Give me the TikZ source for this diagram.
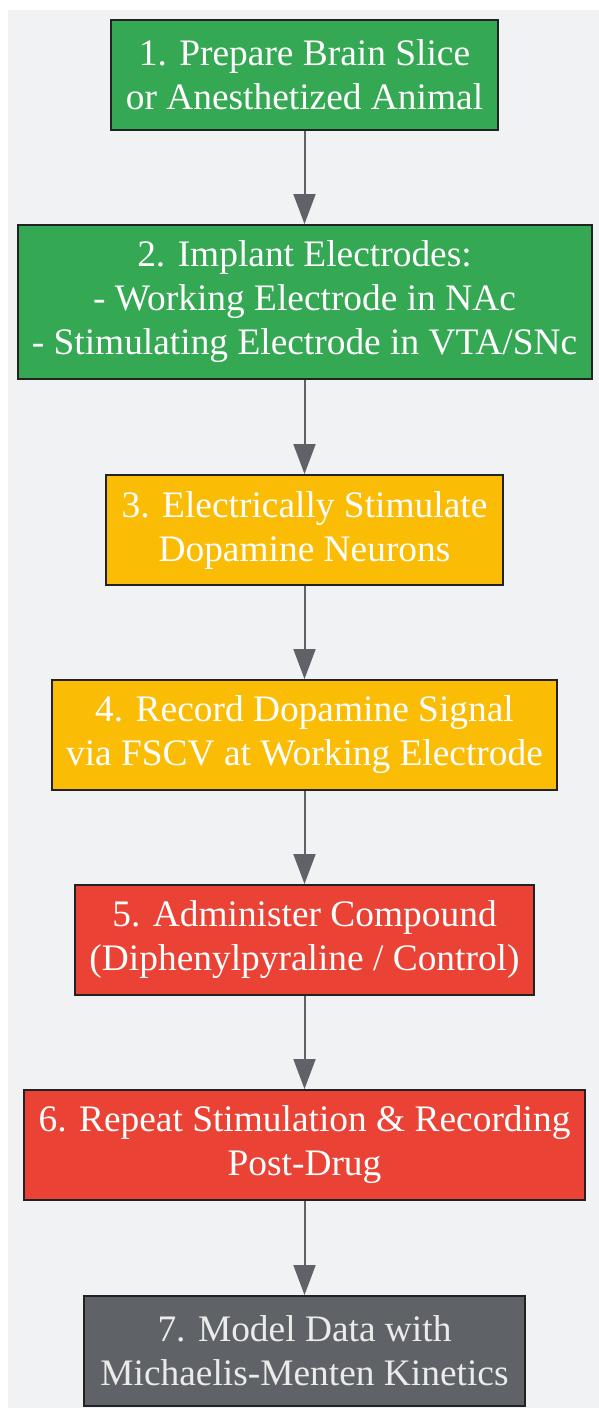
\documentclass[tikz,border=0pt]{standalone}
\usepackage{fontspec}
\setmainfont{Liberation Serif}
\usepackage{tikz}
\usetikzlibrary{arrows.meta}
\definecolor{bggray}{HTML}{F1F2F4}
\definecolor{stepgreen}{HTML}{34A853}
\definecolor{stepyellow}{HTML}{FBBC05}
\definecolor{stepred}{HTML}{EA4335}
\definecolor{stepgray}{HTML}{5F6368}
\definecolor{edgegray}{HTML}{222222}

\begin{document}
\begin{tikzpicture}[x=1pt, y=-1pt]
        \tikzset{stepbox/.style={draw=edgegray, line width=2pt, text=white, align=center,
                font=\fontsize{37.4}{44}\selectfont, inner sep=0pt, minimum height=110pt},
                flow/.style={-{Triangle[length=30pt, width=22pt]}, line width=2pt, stepgray}}
        \useasboundingbox (0,0) rectangle (599,1408);
        \fill[bggray] (8,10) rectangle (599,1408);
        \node[stepbox, fill=stepgreen, minimum width=387pt] (prep) at (304.5,75) {1. Prepare Brain Slice\\or Anesthetized Animal};
        \node[stepbox, fill=stepgreen, minimum width=574pt, minimum height=154pt] (implant) at (304.5,302) {2. Implant Electrodes:\\- Working Electrode in NAc\\- Stimulating Electrode in VTA/SNc};
        \node[stepbox, fill=stepyellow, minimum width=397pt] (stim) at (304.5,530) {3. Electrically Stimulate\\Dopamine Neurons};
        \node[stepbox, fill=stepyellow, minimum width=505pt] (record) at (304.5,735) {4. Record Dopamine Signal\\via FSCV at Working Electrode};
        \node[stepbox, fill=stepred, minimum width=459pt] (drug) at (304.5,940) {5. Administer Compound\\(Diphenylpyraline / Control)};
        \node[stepbox, fill=stepred, minimum width=561pt] (repeat) at (304.5,1145) {6. Repeat Stimulation \& Recording\\Post-Drug};
        \node[stepbox, fill=stepgray, minimum width=441pt, text=white!92!black] (model) at (304.5,1351) {7. Model Data with\\Michaelis-Menten Kinetics};
        \draw[flow] (prep) -- (implant);
        \draw[flow] (implant) -- (stim);
        \draw[flow] (stim) -- (record);
        \draw[flow] (record) -- (drug);
        \draw[flow] (drug) -- (repeat);
        \draw[flow] (repeat) -- (model);
    \end{tikzpicture}
\end{document}
